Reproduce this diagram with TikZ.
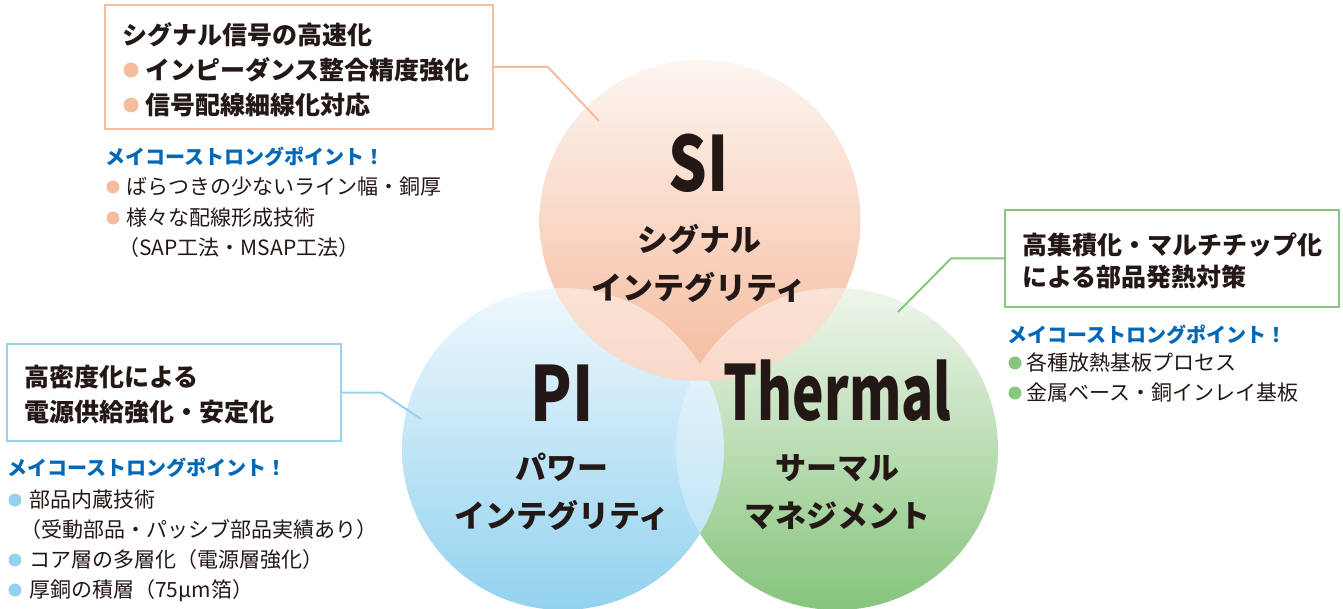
\documentclass[tikz,border=0pt]{standalone}
\usepackage{fontspec}
\setmainfont{Noto Sans CJK JP}
\newfontfamily\biglabelfont{Noto Sans CJK JP}[FakeStretch=0.8]
\newfontfamily\thermalfont{Noto Sans CJK JP}[FakeStretch=0.7]

\definecolor{ink}{RGB}{35,24,21}
\definecolor{meikoblue}{RGB}{0,104,183}
\definecolor{sipeach}{RGB}{245,189,159}
\definecolor{piblue}{RGB}{150,210,238}
\definecolor{thgreen}{RGB}{134,198,128}
\definecolor{sitop}{RGB}{253,245,240}
\definecolor{sibot}{RGB}{245,187,157}
\definecolor{pitop}{RGB}{239,248,253}
\definecolor{pibot}{RGB}{146,210,239}
\definecolor{thtop}{RGB}{239,246,236}
\definecolor{thbot}{RGB}{134,196,124}

\begin{document}
\begin{tikzpicture}[x=1pt,y=-1pt,
    lens/.style={fill=white,fill opacity=#1},
    infobox/.style={line width=2pt,minimum width=334pt,minimum height=97pt,inner sep=0pt},
    link/.style={line width=2pt},
    boxline/.style={anchor=west,inner sep=0pt,text=ink,text height=20pt,text depth=1.25pt,
        font=\bfseries\fontsize{25}{30}\selectfont},
    headline/.style={anchor=west,inner sep=0pt,text=meikoblue,text height=16pt,text depth=1pt,
        font=\bfseries\fontsize{20}{24}\selectfont},
    listline/.style={anchor=west,inner sep=0pt,text=ink,text height=16.8pt,text depth=1.05pt,
        font=\fontsize{21}{25}\selectfont},
    biglabel/.style={anchor=base,inner sep=0pt,text=ink,
        font=\biglabelfont\bfseries\fontsize{76}{76}\selectfont},
    sublabel/.style={align=center,inner sep=0pt,text=ink,
        font=\bfseries\fontsize{31}{47.5}\selectfont}]
    \useasboundingbox (0,0) rectangle (1343,609);

    % the three circles, overlaps lightened
    \shade [top color=thtop,bottom color=thbot] (837,449) circle (161);
    \shade [top color=pitop,bottom color=pibot] (563,449) circle (161);
    \begin{scope}
        \clip (563,449) circle (161);
        \fill [lens=0.3] (837,449) circle (161);
    \end{scope}
    \shade [top color=sitop,bottom color=sibot] (700,220.5) circle (160.5);
    \begin{scope}
        \clip (700,220.5) circle (160.5);
        \fill [lens=0.45] (563,449) circle (161) (837,449) circle (161);
    \end{scope}

    \node [biglabel] (si) at (699,192) {SI};
    \node [sublabel] (sisub) at (699,263.5) {シグナル\\インテグリティ};
    \node [biglabel] (pi) at (562.5,421) {PI};
    \node [sublabel] (pisub) at (562,492) {パワー\\インテグリティ};
    \node [biglabel,font=\thermalfont\bfseries\fontsize{76}{76}\selectfont] (thermal) at (837.5,420) {Thermal};
    \node [sublabel] (thsub) at (837,492) {サーマル\\マネジメント};

    % SI
    \node [infobox,draw=sipeach,minimum width=388pt,minimum height=124pt] (sibox) at (299,67) {};
    \node [boxline] (si1) at (122,35) {シグナル信号の高速化};
    \node [boxline] (si2) at (145,70) {インピーダンス整合精度強化};
    \node [boxline] (si3) at (145,105) {信号配線細線化対応};
    \foreach \y in {70,105} \fill [sipeach] (131,\y) circle (7.5);
    \coordinate (sitip) at (599,121);
    \draw [sipeach,link] (sibox.east) -- ++(54,0) -- (sitip);
    \node [headline] (sihead) at (105,157) {メイコーストロングポイント！};
    \node [listline] (sil1) at (126,187) {ばらつきの少ないライン幅・銅厚};
    \node [listline] (sil2) at (126,218) {様々な配線形成技術};
    \node [listline] (sil3) at (118,248) {（SAP工法・MSAP工法）};
    \foreach \y in {187,218} \fill [sipeach] (113,\y) circle (6.5);

    % PI
    \node [infobox,draw=piblue] (pibox) at (174,392.5) {};
    \node [boxline] (pi1) at (24,377) {高密度化による};
    \node [boxline] (pi2) at (24,412) {電源供給強化・安定化};
    \coordinate (pitip) at (421,419);
    \draw [piblue,link] (pibox.east) -- ++(39,0) -- (pitip);
    \node [headline] (pihead) at (7,468) {メイコーストロングポイント！};
    \node [listline] (pil1) at (29,500) {部品内蔵技術};
    \node [listline] (pil2) at (20,530) {（受動部品・パッシブ部品実績あり）};
    \node [listline] (pil3) at (29,560) {コア層の多層化（電源層強化）};
    \node [listline] (pil4) at (29,590) {厚銅の積層（75μm箔）};
    \foreach \y in {500,560,590} \fill [piblue] (15,\y) circle (6.5);

    % Thermal
    \node [infobox,draw=thgreen] (thbox) at (1172,258.5) {};
    \node [boxline] (th1) at (1022,245) {高集積化・マルチチップ化};
    \node [boxline] (th2) at (1022,277) {による部品発熱対策};
    \coordinate (thtip) at (898,312);
    \draw [thgreen,link] (thbox.west) -- ++(-53,0) -- (thtip);
    \node [headline] (thhead) at (1007,335) {メイコーストロングポイント！};
    \node [listline] (thl1) at (1026,363) {各種放熱基板プロセス};
    \node [listline] (thl2) at (1026,393) {金属ベース・銅インレイ基板};
    \foreach \y in {363,393} \fill [thgreen] (1015,\y) circle (6.5);
\end{tikzpicture}
\end{document}
